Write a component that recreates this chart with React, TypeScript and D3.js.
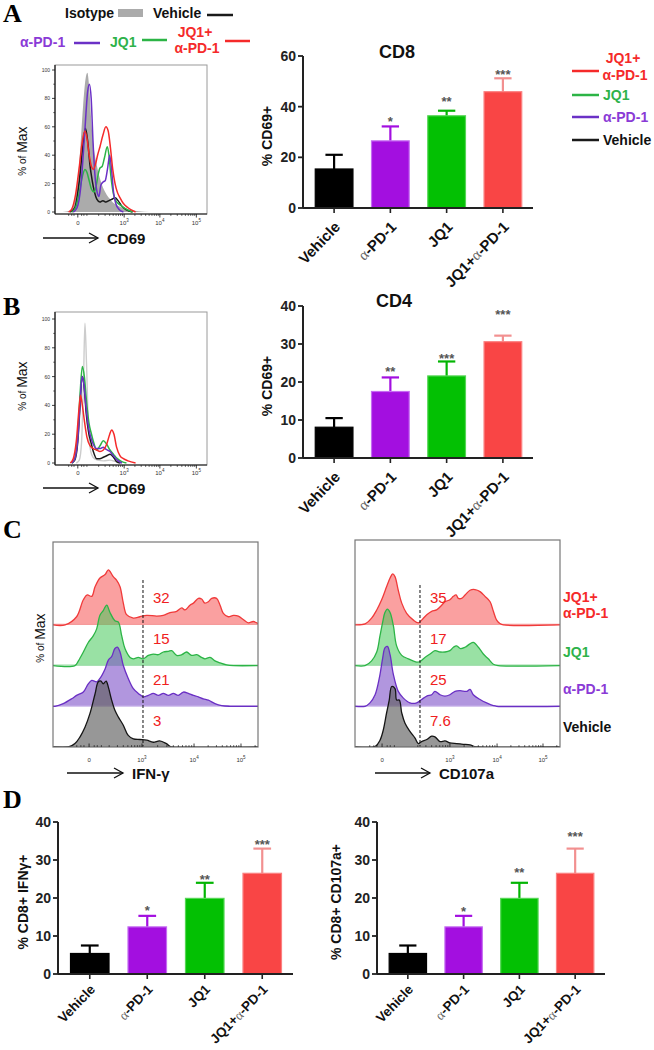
import React from "react";
import * as d3 from "d3";

const SANS = "'Liberation Sans', Arial, Helvetica, sans-serif";
const SERIF = "'Liberation Serif', 'Times New Roman', serif";

// ---------- bar chart data ----------
const GROUPS = ["Vehicle", "α-PD-1", "JQ1", "JQ1+α-PD-1"];
const BAR_FILL = ["#000000", "#a30fe0", "#03c003", "#f94545"];
const BAR_EDGE = ["#000000", "#c56cf2", "#55d655", "#fb8080"];
const ERR_COLOR = ["#000000", "#a30fe0", "#03b503", "#f29090"];

const CD8_MEAN = [15.4, 26.5, 36.4, 45.9];
const CD8_ERR_TOP = [21.0, 32.2, 38.4, 51.2];
const CD8_STARS = ["", "*", "**", "***"];
const CD8_STAR_AT = [0, 35.4, 43.3, 53.8];

const CD4_MEAN = [8.1, 17.5, 21.6, 30.6];
const CD4_ERR_TOP = [10.5, 21.2, 25.4, 32.2];
const CD4_STARS = ["", "**", "***", "***"];
const CD4_STAR_AT = [0, 23.6, 27.1, 38.5];

const IFNG_MEAN = [5.4, 12.4, 19.9, 26.5];
const IFNG_ERR_TOP = [7.5, 15.3, 24.0, 33.0];
const IFNG_STARS = ["", "*", "**", "***"];
const IFNG_STAR_AT = [0, 17.6, 25.6, 34.8];

const CD107_MEAN = [5.4, 12.4, 19.9, 26.5];
const CD107_ERR_TOP = [7.5, 15.3, 24.0, 33.0];
const CD107_STARS = ["", "*", "**", "***"];
const CD107_STAR_AT = [0, 17.3, 27.5, 36.9];

// ---------- histogram data (channel 0-100, % of max) ----------
const HIST_AB_TICKS = [15, 45.5, 69, 93];
const HIST_C1_TICKS = [17.6, 43.4, 68.8, 91.7];
const HIST_C2_TICKS = [13.2, 46.3, 69.3, 91.7];
const HIST_TICK_EXP = ["0", "3", "4", "5"];
const HIST_Y_TICKS = [0, 20, 40, 60, 80, 100];

const A_ISO = [[5,0],[10,1],[13,8],[16,35],[18.5,75],[20,93],[21.3,98],[22.5,88],[24,62],[25.5,45],[27.5,33],[30,22],[33,14],[37,8],[42,4],[48,2],[55,0.5],[62,0]];
const A_VEH = [[10,0],[13,3],[16,22],[18.5,48],[20,59],[21.5,50],[23,33],[24.5,22],[26,14],[27.5,9],[29.5,7],[31.5,8],[33.5,7],[35.5,8],[37.5,9],[39.5,10],[41.5,8],[44,4],[47,1.5],[51,0]];
const A_PD1 = [[12,0],[14.5,3],[17,18],[19.5,55],[21.5,85],[22.6,90],[23.8,80],[25,50],[26.2,27],[27.5,15],[28.9,11],[30.2,19],[31.5,21],[33,22],[34.5,30],[36,40],[37.2,30],[38.5,14],[40,6],[42,2],[45,0]];
const A_JQ1 = [[11,0],[13.5,3],[16,14],[18,25],[19.7,30],[21,28],[22.5,22],[24,16],[25.7,14],[27,18],[28.5,27],[29.6,31],[31,32],[32.5,38],[34.4,46],[35.5,40],[36.8,25],[38.4,13],[40,8],[42.8,5],[46,2.5],[51,0]];
const A_COMBO = [[9,0],[11,2],[13.5,12],[16,32],[18,50],[19.7,57],[21,52],[22.5,40],[24,32],[25.2,30],[26.5,33],[28,40],[29.6,46],[31.5,54],[33.5,60],[35,57],[36.5,45],[38,30],[39.5,20],[41,14],[42.8,10],[45,6],[48,3],[53,0]];

const B_ISO = [[14,0],[16,2],[17.5,15],[18.8,60],[19.7,97],[20.7,70],[22,25],[23.5,8],[25,4],[28,2],[32,1.5],[36,2],[40,1],[44,0]];
const B_VEH = [[11,0],[13,2],[15,15],[16.5,40],[17.8,60],[19,55],[20.5,35],[22,22],[23.5,15],[25.2,8],[27.4,3],[29.5,3],[31.8,4],[34,5],[36.2,6],[38.5,4],[40.5,1],[43,0]];
const B_PD1 = [[11,0],[13,3],[15,17],[16.5,42],[17.8,60],[19,55],[20.5,38],[22,25],[23.5,18],[25.2,13],[27.4,10],[29.6,10],[31.8,11],[32.9,10],[34.5,9],[36.2,8],[38.5,5],[41,2],[44,0]];
const B_JQ1 = [[11,0],[13,3],[15,20],[16.5,48],[18,67],[19.3,60],[20.8,42],[22.3,28],[24,20],[25.5,14],[27.4,9],[29.6,12],[31.8,15.5],[34,13],[36.2,9],[38.5,6],[41,3],[44,1],[47,0]];
const B_COMBO = [[10,0],[12,3],[14,15],[16,40],[16.8,47],[18,40],[19.5,28],[21,18],[23,12],[25.2,10],[27.4,9],[29.6,8],[31.8,9],[34,13],[36,20],[37.3,23],[38.8,20],[40.5,11],[42.8,5],[45,3],[48,1.5],[53,0]];

const C1_COMBO = [[0,0],[5.9,0],[11.5,12],[14.8,37],[16.7,44],[18.9,42],[20.5,56],[22.9,69],[25.4,74],[27,81],[29.4,71],[31,66],[32.7,56],[34.3,32],[35.9,15],[39.2,10],[42.4,12],[45.7,14],[50.6,13],[53.8,14],[57.1,18],[60.3,20],[62.8,25],[64.4,22],[66.8,29],[68.5,32],[70.9,39],[72.5,38],[74.1,32],[75.8,34],[77.4,39],[79.8,39],[81.5,29],[83.1,17],[85.5,12],[88,14],[90.4,13],[92.8,8],[95.3,3],[97.7,5],[100,2]];
const C1_JQ1 = [[0,0],[10.7,0],[12.4,7],[14.8,20],[17.2,34],[19.7,44],[21.3,54],[22.9,74],[24.5,81],[26.2,89],[27.8,78],[30.2,66],[31.9,64],[33.5,44],[35.1,25],[37.6,12],[39.2,10],[41.6,12],[44,10],[46.5,15],[48.9,17],[51.4,16],[53.8,20],[56.3,21],[57.9,22],[60.3,15],[62.8,16],[65.2,20],[67.6,15],[70.1,16],[72.5,12],[74.1,10],[76.6,12],[79,7],[81.5,4],[84.7,1],[88,0],[100,0]];
const C1_PD1 = [[0,0],[1,0],[5,4],[9.1,11],[11.5,16],[14.8,21],[17.2,33],[18.9,38],[21.3,36],[22.9,41],[25.4,55],[27,68],[28.6,73],[30.2,85],[31.4,87],[32.7,80],[34.3,60],[36.7,41],[39.2,26],[41.6,19],[44,14],[46.5,16],[48.9,19],[51.4,16],[53.8,19],[56.3,16],[58.7,19],[61.1,16],[63.6,21],[66,19],[68.5,16],[70.9,14],[73.3,11],[75.8,9],[79,4],[82.3,1],[86.3,0],[100,0]];
const C1_VEH = [[0,0],[7.5,0],[10.7,5],[13.2,15],[15.6,29],[18,49],[20.5,78],[22.1,96],[23.4,97],[24.5,93],[25.9,97],[27,88],[28.6,69],[30.2,54],[31.9,44],[34.3,32],[36.7,17],[39.2,12],[42.4,11],[45.7,10],[48.9,7],[52,9],[55.3,5],[57.9,0],[100,0]];

const C2_COMBO = [[0,0],[4.9,1.5],[8.1,10],[10.6,22],[13,37],[15.4,56],[17.1,69],[18.4,75],[19.5,71],[21.1,51],[22.8,32],[25.2,17],[28.5,7],[30.9,3],[32.5,7],[35,15],[37.4,20],[39.8,22],[42.3,29],[43.9,34],[46.3,37],[48,42],[49.3,44],[50.4,39],[52,39],[53.7,44],[56.1,51],[58.5,52],[61,49],[63.4,42],[65.9,34],[67.5,20],[69.1,7],[70.7,2],[72.4,0],[100,0]];
const C2_JQ1 = [[0,0],[4.9,0],[8.1,7],[10.6,20],[12.2,44],[13.5,64],[14.6,78],[15.8,83],[17.1,78],[18.7,59],[20.3,29],[22.8,15],[26,10],[30.1,5],[31.7,6],[34.1,12],[36.6,17],[39,22],[41.5,20],[43.9,20],[46.3,22],[48,27],[49.6,29],[51.5,25],[53.7,27],[56.1,32],[57.7,34],[60.2,27],[62.6,17],[65,10],[67.5,2],[69.9,0],[100,0]];
const C2_PD1 = [[0,0],[4.9,0],[7.3,5],[9.8,17],[11.9,42],[13.5,71],[14.6,86],[15.8,88],[17.1,76],[18.7,47],[21.1,22],[23.6,12],[26.8,5],[30.1,5],[32.5,10],[35,15],[37.4,17],[39,22],[41.5,17],[43.9,15],[46.3,17],[48.8,22],[51.2,23],[54.5,22],[56.1,25],[57.7,17],[61,10],[64.2,5],[67.5,1],[69.1,0],[100,0]];
const C2_VEH = [[0,0],[9.8,0.5],[12.2,10],[13.8,25],[15.4,50],[16.7,69],[17.9,89],[19.5,86],[20.3,69],[21.6,69],[22.8,50],[24.4,35],[26.8,23],[29.3,13],[30.9,5],[32.5,8],[35,11],[37.4,16],[39,15],[41.5,8],[43.9,9],[46.3,6],[49.6,5],[52.8,4],[56.1,3],[59.3,0],[100,0]];

const C1_PCT = ["32", "15", "21", "3"];
const C2_PCT = ["35", "17", "25", "7.6"];
const C1_GATE = 43.9;
const C2_GATE = 31.7;

const COL = {
  red: "#f52a2a",
  green: "#2cb446",
  purple: "#6b31c6",
  black: "#1a1a1a",
};

type Pt = number[];

function minorTicks(majors: number[]): number[] {
  const out: number[] = [];
  const w = majors[3] - majors[2];
  for (let k = 2; k <= 9; k++) out.push(majors[1] - (1 - Math.log10(k)) * w);
  for (let d = 1; d < 3; d++)
    for (let k = 2; k <= 9; k++) out.push(majors[d] + Math.log10(k) * (majors[d + 1] - majors[d]));
  for (let k = 2; k <= 9; k++) {
    const v = majors[3] + Math.log10(k) * w;
    if (v <= 100) out.push(v);
  }
  const lin = [-6, -4, -2.5, 2.5, 4, 6];
  lin.forEach((o) => out.push(majors[0] + o));
  return out.filter((v) => v > 0 && v < 100);
}

function TickLabel({ x, y, exp }: { x: number; y: number; exp: string }) {
  if (exp === "0")
    return (
      <text x={x} y={y} fontSize={6} textAnchor="middle" fill="#333">
        0
      </text>
    );
  return (
    <text x={x} y={y} fontSize={6} textAnchor="middle" fill="#333">
      10
      <tspan dy={-3} fontSize={4.5}>
        {exp}
      </tspan>
    </text>
  );
}

function Arrow({ x1, x2, y, label }: { x1: number; x2: number; y: number; label: string }) {
  return (
    <g>
      <line x1={x1} x2={x2} y1={y} y2={y} stroke="#111" strokeWidth={1.3} />
      <path d={`M${x2 - 9},${y - 5}L${x2},${y}L${x2 - 9},${y + 5}`} fill="none" stroke="#111" strokeWidth={1.3} />
      <text x={x2 + 9} y={y} dominantBaseline="central" fontSize={15} fontWeight="bold" fill="#111">
        {label}
      </text>
    </g>
  );
}

function PctMaxLabel({ x, y }: { x: number; y: number }) {
  return (
    <text transform={`translate(${x},${y}) rotate(-90)`} textAnchor="middle" dominantBaseline="central" fill="#111">
      <tspan fontSize={10}>% of </tspan>
      <tspan fontSize={14}>Max</tspan>
    </text>
  );
}

type Curve = { data: Pt[]; stroke: string; fill?: string; width?: number };

function OverlayHist({
  x0, x1, top, axisY, y0, y100, curves, ticks, labelY,
}: {
  x0: number; x1: number; top: number; axisY: number; y0: number; y100: number;
  curves: Curve[]; ticks: number[]; labelY: number;
}) {
  const x = d3.scaleLinear().domain([0, 100]).range([x0, x1]);
  const y = d3.scaleLinear().domain([0, 100]).range([y0, y100]);
  const line = d3.line<Pt>().x((d) => x(d[0])).y((d) => y(d[1])).curve(d3.curveMonotoneX);
  const area = d3.area<Pt>().x((d) => x(d[0])).y0(y(0)).y1((d) => y(d[1])).curve(d3.curveMonotoneX);
  const minors = minorTicks(ticks);
  const yMinor = [10, 30, 50, 70, 90];
  return (
    <g>
      <rect x={x0} y={top} width={x1 - x0} height={axisY - top} fill="none" stroke="#9a9a9a" strokeWidth={1} />
      <clipPath id={`clip-${top}`}>
        <rect x={x0} y={top} width={x1 - x0} height={axisY - top} />
      </clipPath>
      <g clipPath={`url(#clip-${top})`}>
        {curves.map((c, i) =>
          c.fill ? (
            <path key={i} d={area(c.data) || ""} fill={c.fill} stroke="none" />
          ) : (
            <path key={i} d={line(c.data) || ""} fill="none" stroke={c.stroke} strokeWidth={c.width ?? 1.5} />
          )
        )}
      </g>
      <line x1={x0} x2={x0} y1={top} y2={axisY} stroke="#111" strokeWidth={1.2} />
      <line x1={x0} x2={x1} y1={axisY} y2={axisY} stroke="#111" strokeWidth={1.2} />
      {HIST_Y_TICKS.map((t) => (
        <g key={t}>
          <line x1={x0 - 3} x2={x0} y1={y(t)} y2={y(t)} stroke="#111" strokeWidth={0.8} />
          <text x={x0 - 5} y={y(t)} fontSize={5} textAnchor="end" dominantBaseline="central" fill="#333">
            {t}
          </text>
        </g>
      ))}
      {yMinor.map((t) => (
        <line key={t} x1={x0 - 1.8} x2={x0} y1={y(t)} y2={y(t)} stroke="#111" strokeWidth={0.6} />
      ))}
      {ticks.map((t, i) => (
        <g key={i}>
          <line x1={x(t)} x2={x(t)} y1={axisY} y2={axisY + 3.5} stroke="#111" strokeWidth={0.8} />
          <TickLabel x={x(t)} y={labelY} exp={HIST_TICK_EXP[i]} />
        </g>
      ))}
      {minors.map((t, i) => (
        <line key={"m" + i} x1={x(t)} x2={x(t)} y1={axisY} y2={axisY + 2} stroke="#111" strokeWidth={0.6} />
      ))}
    </g>
  );
}

type Row = { data: Pt[]; stroke: string; fill: string; base: string };

function StackHist({
  x0, x1, top, bottom, rows, ticks, gate, gateTop, pcts, pctX,
}: {
  x0: number; x1: number; top: number; bottom: number; rows: Row[]; ticks: number[];
  gate: number; gateTop: number; pcts: string[]; pctX: number;
}) {
  const x = d3.scaleLinear().domain([0, 100]).range([x0, x1]);
  const rowStep = 40.7;
  const h = d3.scaleLinear().domain([0, 100]).range([0, 68]);
  const minors = minorTicks(ticks);
  return (
    <g>
      <clipPath id={`cl-${x0}`}>
        <rect x={x0} y={top} width={x1 - x0} height={bottom - top} />
      </clipPath>
      <g clipPath={`url(#cl-${x0})`}>
        {rows.map((r, i) => {
          const base = bottom - (rows.length - 1 - i) * rowStep;
          const area = d3
            .area<Pt>()
            .x((d) => x(d[0]))
            .y0(base)
            .y1((d) => base - h(d[1]))
            .curve(d3.curveCatmullRom.alpha(0.5));
          const line = d3
            .line<Pt>()
            .x((d) => x(d[0]))
            .y((d) => base - h(d[1]))
            .curve(d3.curveCatmullRom.alpha(0.5));
          return (
            <g key={i}>
              <path d={area(r.data) || ""} fill={r.fill} stroke="none" />
              <line x1={x0} x2={x1} y1={base - 0.5} y2={base - 0.5} stroke={r.base} strokeWidth={1.2} />
              <path d={line(r.data) || ""} fill="none" stroke={r.stroke} strokeWidth={1.3} />
            </g>
          );
        })}
      </g>
      <line x1={x(gate)} x2={x(gate)} y1={gateTop} y2={bottom} stroke="#111" strokeWidth={1} strokeDasharray="3,2" />
      {pcts.map((p, i) => {
        const base = bottom - (rows.length - 1 - i) * rowStep;
        return (
          <text key={i} x={pctX} y={base - 27} fontSize={15} fill="#f02020" dominantBaseline="central">
            {p}
          </text>
        );
      })}
      <rect x={x0} y={top} width={x1 - x0} height={bottom - top} fill="none" stroke="#777" strokeWidth={1.2} />
      {ticks.map((t, i) => (
        <g key={i}>
          <line x1={x(t)} x2={x(t)} y1={bottom} y2={bottom - 3.5} stroke="#111" strokeWidth={0.8} />
          <TickLabel x={x(t)} y={bottom + 15} exp={HIST_TICK_EXP[i]} />
        </g>
      ))}
      {minors.map((t, i) => (
        <line key={"m" + i} x1={x(t)} x2={x(t)} y1={bottom} y2={bottom - 2} stroke="#111" strokeWidth={0.6} />
      ))}
    </g>
  );
}

function GroupLabel({ name }: { name: string }) {
  if (name.includes("α")) {
    const idx = name.indexOf("α");
    return (
      <>
        {name.slice(0, idx)}
        <tspan fontFamily={SERIF} fontWeight="normal" fill="#666">
          α
        </tspan>
        {name.slice(idx + 1)}
      </>
    );
  }
  return <>{name}</>;
}

function BarPanel({
  x0, x1, yTop, yBot, yMax, tickStep, means, errTop, stars, starAt, title, titleX, titleY, ylabel, ylabelX, labelDy, labelSize,
}: {
  x0: number; x1: number; yTop: number; yBot: number; yMax: number; tickStep: number;
  means: number[]; errTop: number[]; stars: string[]; starAt: number[];
  title?: string; titleX?: number; titleY?: number; ylabel: string; ylabelX: number; labelDy: number; labelSize: number;
}) {
  const x = d3.scaleBand<string>().domain(GROUPS).range([x0 + 1, x1]).paddingInner(0.33).paddingOuter(0.2);
  const y = d3.scaleLinear().domain([0, yMax]).range([yBot, yTop]);
  const ticks = d3.range(0, yMax + 0.001, tickStep);
  const bw = x.bandwidth();
  return (
    <g>
      {title && (
        <text x={titleX} y={titleY} textAnchor="middle" dominantBaseline="central" fontSize={18} fontWeight="bold" fill="#111">
          {title}
        </text>
      )}
      {GROUPS.map((g, i) => {
        const bx = x(g) as number;
        const cx = bx + bw / 2;
        return (
          <g key={g}>
            <line x1={cx} x2={cx} y1={y(means[i])} y2={y(errTop[i])} stroke={ERR_COLOR[i]} strokeWidth={2.2} />
            <line x1={cx - bw * 0.23} x2={cx + bw * 0.23} y1={y(errTop[i])} y2={y(errTop[i])} stroke={ERR_COLOR[i]} strokeWidth={2.2} />
            <rect x={bx} y={y(means[i])} width={bw} height={y(0) - y(means[i])} fill={BAR_FILL[i]} stroke={BAR_EDGE[i]} strokeWidth={1.2} />
            {stars[i] && (
              <text x={cx} y={y(starAt[i]) + 7.5} textAnchor="middle" fontSize={13} fontWeight="bold" fill="#555">
                {stars[i]}
              </text>
            )}
            <line x1={cx} x2={cx} y1={yBot} y2={yBot + 5} stroke="#222" strokeWidth={1.6} />
            <text
              transform={`translate(${cx + 3},${yBot + labelDy}) rotate(-46)`}
              textAnchor="end"
              dominantBaseline="central"
              fontSize={labelSize}
              fontWeight="bold"
              fill="#111"
            >
              <GroupLabel name={g} />
            </text>
          </g>
        );
      })}
      <line x1={x0} x2={x0} y1={yTop} y2={yBot} stroke="#222" strokeWidth={2} />
      <line x1={x0} x2={x1} y1={yBot} y2={yBot} stroke="#222" strokeWidth={2} />
      {ticks.map((t) => (
        <g key={t}>
          <line x1={x0 - 5} x2={x0} y1={y(t)} y2={y(t)} stroke="#222" strokeWidth={1.8} />
          <text x={x0 - 7} y={y(t)} textAnchor="end" dominantBaseline="central" fontSize={14} fontWeight="bold" fill="#222">
            {t}
          </text>
        </g>
      ))}
      <text
        transform={`translate(${ylabelX},${(yTop + yBot) / 2 + 4}) rotate(-90)`}
        textAnchor="middle"
        dominantBaseline="central"
        fontSize={14}
        fontWeight="bold"
        fill="#111"
      >
        {ylabel}
      </text>
    </g>
  );
}

function PanelLetter({ x, y, t }: { x: number; y: number; t: string }) {
  return (
    <text x={x} y={y} fontFamily={SERIF} fontWeight="bold" fontSize={26} fill="#000">
      {t}
    </text>
  );
}

export default function App() {
  const redFill = "rgba(246,96,96,0.6)";
  const greenFill = "rgba(70,200,90,0.55)";
  const purpleFill = "rgba(125,80,200,0.6)";
  const grayFill = "rgba(95,95,95,0.65)";
  return (
    <svg
      width={654}
      height={1050}
      viewBox="0 0 654 1050"
      style={{ position: "absolute", left: 0, top: 0, background: "#fff" }}
      fontFamily={SANS}
    >
      <rect x={0} y={0} width={654} height={1050} fill="#fff" />

      {/* ---------- Panel A ---------- */}
      <PanelLetter x={3} y={22} t="A" />
      <g fontSize={14} fontWeight="bold">
        <text x={65} y={13} dominantBaseline="central" fill="#111">Isotype</text>
        <rect x={118} y={9} width={25} height={8} fill="#ababab" />
        <text x={153} y={13} dominantBaseline="central" fill="#111">Vehicle</text>
        <line x1={207} x2={233} y1={15} y2={15} stroke={COL.black} strokeWidth={2.5} />
        <text x={20} y={42} dominantBaseline="central" fill="#8a3ad6">α-PD-1</text>
        <line x1={74} x2={100} y1={43} y2={43} stroke={COL.purple} strokeWidth={2.5} />
        <text x={110} y={42} dominantBaseline="central" fill="#2eb24a">JQ1</text>
        <line x1={142} x2={167} y1={40} y2={40} stroke={COL.green} strokeWidth={2.5} />
        <text x={195} y={32} textAnchor="middle" dominantBaseline="central" fill="#f52a2a">JQ1+</text>
        <text x={197} y={48} textAnchor="middle" dominantBaseline="central" fill="#f52a2a">α-PD-1</text>
        <line x1={225} x2={250} y1={41} y2={41} stroke={COL.red} strokeWidth={2.5} />
      </g>
      <PctMaxLabel x={22} y={151} />
      <OverlayHist
        x0={55} x1={207} top={65} axisY={214} y0={212} y100={70} ticks={HIST_AB_TICKS} labelY={225}
        curves={[
          { data: A_ISO, stroke: "none", fill: "#ababab" },
          { data: A_VEH, stroke: COL.black },
          { data: A_JQ1, stroke: COL.green },
          { data: A_PD1, stroke: COL.purple },
          { data: A_COMBO, stroke: COL.red },
        ]}
      />
      <Arrow x1={43} x2={98} y={238} label="CD69" />

      <BarPanel
        x0={303} x1={533} yTop={56} yBot={208} yMax={60} tickStep={20}
        means={CD8_MEAN} errTop={CD8_ERR_TOP} stars={CD8_STARS} starAt={CD8_STAR_AT}
        title="CD8" titleX={397} titleY={52} ylabel="% CD69+" ylabelX={267} labelDy={16} labelSize={15}
      />
      <g fontSize={14} fontWeight="bold">
        <line x1={572} x2={599} y1={71} y2={71} stroke={COL.red} strokeWidth={2.5} />
        <text x={623} y={58} textAnchor="middle" dominantBaseline="central" fill="#f52a2a">JQ1+</text>
        <text x={625} y={75} textAnchor="middle" dominantBaseline="central" fill="#f52a2a">α-PD-1</text>
        <line x1={572} x2={599} y1={95} y2={95} stroke={COL.green} strokeWidth={2.5} />
        <text x={603} y={95} dominantBaseline="central" fill="#2eb24a">JQ1</text>
        <line x1={572} x2={599} y1={117} y2={117} stroke={COL.purple} strokeWidth={2.5} />
        <text x={603} y={117} dominantBaseline="central" fill="#8a3ad6">α-PD-1</text>
        <line x1={572} x2={599} y1={140} y2={140} stroke={COL.black} strokeWidth={2.5} />
        <text x={603} y={140} dominantBaseline="central" fill="#111">Vehicle</text>
      </g>

      {/* ---------- Panel B ---------- */}
      <PanelLetter x={3} y={315} t="B" />
      <PctMaxLabel x={22} y={386} />
      <OverlayHist
        x0={55} x1={207} top={312} axisY={465} y0={463} y100={319} ticks={HIST_AB_TICKS} labelY={475}
        curves={[
          { data: B_ISO, stroke: "#cccccc", width: 1.4 },
          { data: B_VEH, stroke: COL.black },
          { data: B_JQ1, stroke: COL.green },
          { data: B_PD1, stroke: COL.purple },
          { data: B_COMBO, stroke: COL.red },
        ]}
      />
      <Arrow x1={43} x2={98} y={488} label="CD69" />
      <BarPanel
        x0={303} x1={533} yTop={306} yBot={458} yMax={40} tickStep={10}
        means={CD4_MEAN} errTop={CD4_ERR_TOP} stars={CD4_STARS} starAt={CD4_STAR_AT}
        title="CD4" titleX={394} titleY={301} ylabel="% CD69+" ylabelX={267} labelDy={16} labelSize={15}
      />

      {/* ---------- Panel C ---------- */}
      <PanelLetter x={3} y={538} t="C" />
      <PctMaxLabel x={40} y={638} />
      <StackHist
        x0={53} x1={258} top={542} bottom={747} ticks={HIST_C1_TICKS} gate={C1_GATE} gateTop={580}
        pcts={C1_PCT} pctX={153}
        rows={[
          { data: C1_COMBO, stroke: "#f03a3a", fill: redFill, base: "#f59a9a" },
          { data: C1_JQ1, stroke: "#2cb446", fill: greenFill, base: "#9adca6" },
          { data: C1_PD1, stroke: "#6a2fc4", fill: purpleFill, base: "#c0a8e6" },
          { data: C1_VEH, stroke: "#151515", fill: grayFill, base: "#888" },
        ]}
      />
      <Arrow x1={67} x2={123} y={773} label="IFN-γ" />
      <StackHist
        x0={355} x1={560} top={540} bottom={747} ticks={HIST_C2_TICKS} gate={C2_GATE} gateTop={585}
        pcts={C2_PCT} pctX={430}
        rows={[
          { data: C2_COMBO, stroke: "#f03a3a", fill: redFill, base: "#f59a9a" },
          { data: C2_JQ1, stroke: "#2cb446", fill: greenFill, base: "#9adca6" },
          { data: C2_PD1, stroke: "#6a2fc4", fill: purpleFill, base: "#c0a8e6" },
          { data: C2_VEH, stroke: "#151515", fill: grayFill, base: "#888" },
        ]}
      />
      <Arrow x1={375} x2={430} y={773} label="CD107a" />
      <g fontSize={14} fontWeight="bold">
        <text x={563} y={597} dominantBaseline="central" fill="#f52a2a">JQ1+</text>
        <text x={563} y={613} dominantBaseline="central" fill="#f52a2a">α-PD-1</text>
        <text x={563} y={652} dominantBaseline="central" fill="#2eb24a">JQ1</text>
        <text x={563} y={689} dominantBaseline="central" fill="#8a3ad6">α-PD-1</text>
        <text x={563} y={727} dominantBaseline="central" fill="#111">Vehicle</text>
      </g>

      {/* ---------- Panel D ---------- */}
      <PanelLetter x={3} y={808} t="D" />
      <BarPanel
        x0={58} x1={293} yTop={822} yBot={974} yMax={40} tickStep={10}
        means={IFNG_MEAN} errTop={IFNG_ERR_TOP} stars={IFNG_STARS} starAt={IFNG_STAR_AT}
        ylabel="% CD8+ IFNγ+" ylabelX={23} labelDy={13} labelSize={13.5}
      />
      <BarPanel
        x0={377} x1={605} yTop={822} yBot={974} yMax={40} tickStep={10}
        means={CD107_MEAN} errTop={CD107_ERR_TOP} stars={CD107_STARS} starAt={CD107_STAR_AT}
        ylabel="% CD8+ CD107a+" ylabelX={336} labelDy={13} labelSize={13.5}
      />
    </svg>
  );
}
